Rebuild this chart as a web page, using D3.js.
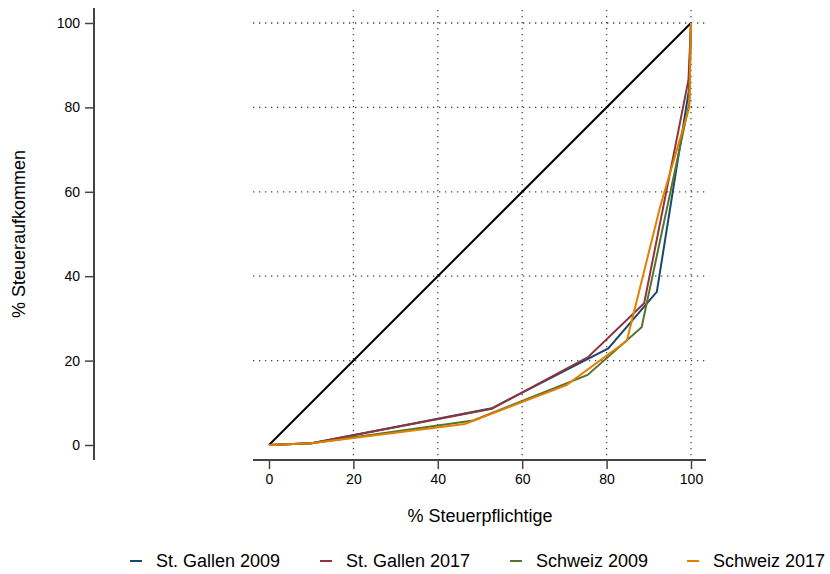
<!DOCTYPE html>
<html><head><meta charset="utf-8">
<script src="https://cdn.jsdelivr.net/npm/d3@7"></script>
<style>body{margin:0;background:#fff}svg{display:block}text{font-family:"Liberation Sans",Arial,sans-serif;fill:#000}</style>
</head><body>
<svg id="c" width="830" height="574"></svg>
<script>
const seriesNames = ["St. Gallen 2009","St. Gallen 2017","Schweiz 2009","Schweiz 2017"];
const seriesColors = ["#1a476f","#90353b","#55752f","#e37e00"];
const sg2009X = [0,10.1,52.8,80.4,91.9,99.5,100];
const sg2009Y = [0,0.4,8.7,22.9,36.3,84,100];
const sg2017X = [0,10.1,52.8,75.7,88.9,99.4,100];
const sg2017Y = [0,0.4,8.6,20.9,33.6,86.5,100];
const ch2009X = [0,10.1,48.4,75.5,88.3,99.6,100];
const ch2009Y = [0,0.4,5.8,16.6,27.9,81,100];
const ch2017X = [0,10.1,46.4,70.5,84.8,92.7,99.6,100];
const ch2017Y = [0,0.4,5.0,14.2,24.7,56.5,80,100];
const equalityX = [0,100];
const equalityY = [0,100];
const xTicks = [0,20,40,60,80,100];
const yTicks = [0,20,40,60,80,100];
const xTitle = "% Steuerpflichtige";
const yTitle = "% Steueraufkommen";

const svg = d3.select("#c");
const x = d3.scaleLinear().domain([0,100]).range([269,691]);
const y = d3.scaleLinear().domain([0,100]).range([445,23]);
const plotL=253, plotR=706, plotT=8, plotB=460;

// grid
const grid = svg.append("g").attr("stroke","#444").attr("stroke-width",1.3).attr("stroke-dasharray","1.3,4.7");
grid.selectAll("line.h").data(yTicks.filter(d=>d>0)).join("line")
  .attr("x1",plotL).attr("x2",plotR).attr("y1",d=>y(d)).attr("y2",d=>y(d));
grid.selectAll("line.v").data(xTicks.filter(d=>d>0)).join("line")
  .attr("y1",plotT+2).attr("y2",plotB-4).attr("x1",d=>x(d)).attr("x2",d=>x(d));

// axes
const yAxis = d3.axisLeft(y).tickValues(yTicks).tickSize(9).tickPadding(5);
const gy = svg.append("g").attr("transform","translate(94,0)").call(yAxis);
gy.select(".domain").remove();
gy.append("line").attr("x1",0).attr("x2",0).attr("y1",plotT).attr("y2",plotB).attr("stroke","#444").attr("stroke-width",2);
gy.selectAll(".tick line").attr("stroke","#444").attr("stroke-width",1.5);
gy.selectAll(".tick text").attr("font-size",14).attr("fill","#000").attr("font-family","Liberation Sans, Arial, sans-serif");

const xAxis = d3.axisBottom(x).tickValues(xTicks).tickSize(9).tickPadding(5);
const gx = svg.append("g").attr("transform",`translate(0,${plotB})`).call(xAxis);
gx.select(".domain").remove();
gx.append("line").attr("x1",plotL).attr("x2",plotR).attr("y1",0).attr("y2",0).attr("stroke","#444").attr("stroke-width",2);
gx.selectAll(".tick line").attr("stroke","#444").attr("stroke-width",1.5);
gx.selectAll(".tick text").attr("font-size",14).attr("fill","#000").attr("font-family","Liberation Sans, Arial, sans-serif");

// titles
svg.append("text").attr("x",480).attr("y",522).attr("text-anchor","middle").attr("font-size",18).text(xTitle);
svg.append("text").attr("transform","translate(25,234) rotate(-90)").attr("text-anchor","middle").attr("font-size",18).text(yTitle);

// lines
const line = d3.line().x(d=>x(d[0])).y(d=>y(d[1]));
const zip = (a,b)=>a.map((v,i)=>[v,b[i]]);
svg.append("path").datum(zip(equalityX,equalityY)).attr("d",line).attr("fill","none").attr("stroke","#000").attr("stroke-width",2);
const series = [zip(sg2009X,sg2009Y),zip(sg2017X,sg2017Y),zip(ch2009X,ch2009Y),zip(ch2017X,ch2017Y)];
series.forEach((s,i)=>{
  svg.append("path").datum(s).attr("d",line).attr("fill","none").attr("stroke",seriesColors[i]).attr("stroke-width",2).attr("stroke-linejoin","miter");
});

// legend
const legX = [130,320,510,687];
const lg = svg.append("g");
seriesNames.forEach((n,i)=>{
  lg.append("line").attr("x1",legX[i]).attr("x2",legX[i]+12).attr("y1",561).attr("y2",561).attr("stroke",seriesColors[i]).attr("stroke-width",2);
  lg.append("text").attr("x",legX[i]+26).attr("y",567).attr("font-size",18).text(n);
});
</script>
</body></html>
